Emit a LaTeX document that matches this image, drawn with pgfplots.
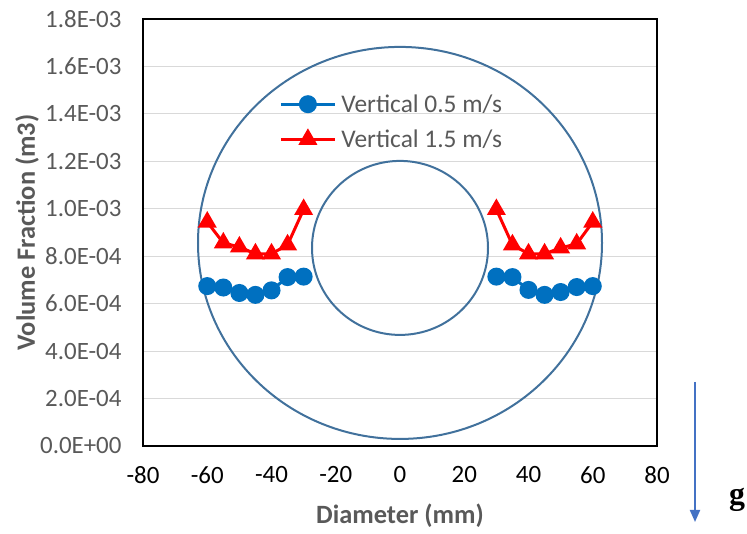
\documentclass[border=0pt]{standalone}
\usepackage{pgfplots}
\pgfplotsset{compat=1.18}
\usepackage{fontspec}
\setmainfont{Carlito}
\newfontfamily\gfont{Liberation Serif}
\usetikzlibrary{arrows.meta}
\definecolor{serblue}{HTML}{0070C0}
\definecolor{serred}{HTML}{FF0000}
\definecolor{ringblue}{HTML}{41719C}
\definecolor{labgray}{HTML}{595959}
\definecolor{gridgray}{HTML}{D9D9D9}
\definecolor{arrowblue}{HTML}{4472C4}

\begin{document}
\begin{tikzpicture}[x=1bp,y=1bp]
\path[use as bounding box] (0,0) rectangle (747,534);
\begin{axis}[
  at={(143bp,88bp)}, anchor=south west,
  scale only axis, width=514bp, height=427bp,
  xmin=-80, xmax=80, ymin=0, ymax=0.0018,
  xtick={-80,-60,-40,-20,0,20,40,60,80},
  xticklabels={-80,-60,-40,-20,0,20,40,60,80},
  ytick={0,0.0002,0.0004,0.0006,0.0008,0.001,0.0012,0.0014,0.0016,0.0018},
  yticklabels={0.0E+00,2.0E-04,4.0E-04,6.0E-04,8.0E-04,1.0E-03,1.2E-03,1.4E-03,1.6E-03,1.8E-03},
  scaled y ticks=false,
  major tick length=0pt,
  ymajorgrids,
  grid style={gridgray, line width=1.2bp},
  axis line style={black, line width=1.3bp},
  tick label style={font=\fontsize{25}{30}\selectfont},
  yticklabel style={text=labgray, xshift=-18bp},
  xticklabel style={text=black, yshift=-17bp},
  xlabel={\textbf{Diameter (mm)}},
  ylabel={\textbf{Volume Fraction (m3)}},
  label style={text=labgray, font=\fontsize{26.5}{30}\selectfont},
  xlabel style={at={(rel axis cs:0.5,-0.164)}, anchor=center},
  ylabel style={at={(rel axis cs:-0.2257,0.5)}, anchor=center, rotate=0},
  legend style={at={(rel axis cs:0.265,0.828)}, anchor=north west, draw=none, fill=none,
    font=\fontsize{25.5}{30}\selectfont, text=labgray, row sep=12bp, column sep=3bp,
    inner sep=0pt, nodes={inner sep=2bp}},
  legend cell align=left,
  legend image code/.code={\draw[mark repeat=2,mark phase=2] plot coordinates {(0bp,0bp) (27bp,0bp) (54bp,0bp)};},
  clip=false,
]
% left half of the annulus
\addplot[serblue, line width=3bp, mark=*, mark size=7.5bp, mark options={solid, fill=serblue}]
  coordinates {(-60,0.000674) (-55,0.000668) (-50,0.000645) (-45,0.000637) (-40,0.000656) (-35,0.000712) (-30,0.000714)};
\addlegendentry{Vertical 0.5 m/s}
\addplot[serred, line width=3bp, mark=triangle*, mark size=8bp, mark options={solid, fill=serred}]
  coordinates {(-60,0.000944) (-55,0.000856) (-50,0.000839) (-45,0.000810) (-40,0.000810) (-35,0.000848) (-30,0.000997)};
\addlegendentry{Vertical 1.5 m/s}
% right half of the annulus
\addplot[serblue, line width=3bp, mark=*, mark size=7.5bp, mark options={solid, fill=serblue}, forget plot]
  coordinates {(30,0.000714) (35,0.000712) (40,0.000658) (45,0.000637) (50,0.000649) (55,0.000670) (60,0.000674)};
\addplot[serred, line width=3bp, mark=triangle*, mark size=8bp, mark options={solid, fill=serred}, forget plot]
  coordinates {(30,0.000997) (35,0.000848) (40,0.000810) (45,0.000810) (50,0.000835) (55,0.000852) (60,0.000944)};
% pipe walls
\draw[ringblue, line width=2bp] (axis cs:0,0.000856) ellipse [x radius=202bp, y radius=196bp];
\draw[ringblue, line width=2bp] (axis cs:0,0.000835) ellipse [x radius=88bp, y radius=87bp];
\end{axis}
% direction of gravity
\draw[arrowblue, line width=2bp, -{Triangle[length=12bp,width=10bp]}] (695,152) -- (695,12);
\node[anchor=base, font=\gfont\bfseries\fontsize{32}{34}\selectfont] at (737,29) {g};
\end{tikzpicture}
\end{document}
